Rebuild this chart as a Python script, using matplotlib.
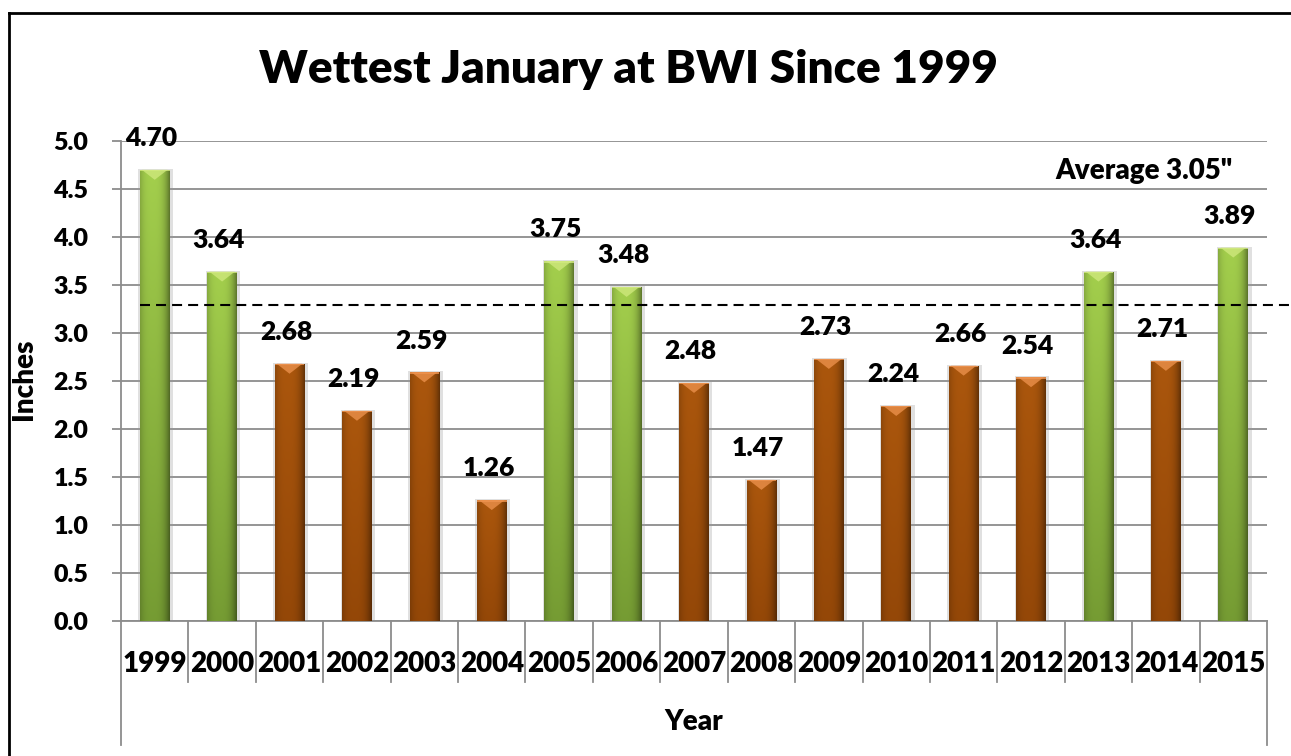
import matplotlib
matplotlib.use('Agg')
import matplotlib.pyplot as plt
import matplotlib.transforms as mtransforms
from matplotlib.lines import Line2D
from matplotlib.patches import Polygon, Rectangle
import numpy as np

plt.rcParams['font.family'] = ['Lato', 'DejaVu Sans']
plt.rcParams['font.weight'] = 'heavy'

# data
years = ['1999', '2000', '2001', '2002', '2003', '2004', '2005', '2006', '2007',
         '2008', '2009', '2010', '2011', '2012', '2013', '2014', '2015']
rain = [4.70, 3.64, 2.68, 2.19, 2.59, 1.26, 3.75, 3.48, 2.48,
        1.47, 2.73, 2.24, 2.66, 2.54, 3.64, 2.71, 3.89]
avg_line = 3.29          # where the dashed line sits in the picture
avg_text = 'Average 3.05"'
y_ticks = [0.0, 0.5, 1.0, 1.5, 2.0, 2.5, 3.0, 3.5, 4.0, 4.5, 5.0]

W, H = 1291, 756
GRID = '#8c8c8c'
WT = 'heavy'

# colour sets: (top, bottom, bevel)
green = (np.array([0.64, 0.81, 0.30]), np.array([0.46, 0.61, 0.20]), '#d2ea80')
brown = (np.array([0.67, 0.34, 0.05]), np.array([0.58, 0.28, 0.03]), '#ef9450')


def bar_image(top, bottom, nx=60, ny=120):
    u = np.linspace(0, 1, nx)
    # cylinder look: a bit brighter left of centre, darker at the edges
    shade = 1.0 - 0.28 * np.abs(2 * u - 0.85) ** 3
    v = np.linspace(0, 1, ny)[:, None, None]
    base = top[None, None, :] * (1 - v) + bottom[None, None, :] * v
    return np.clip(base * shade[None, :, None], 0, 1)


fig = plt.figure(figsize=(W / 100, H / 100), dpi=100)
ax = fig.add_axes([121 / W, (H - 621) / H, 1146 / W, 480 / H])

x = np.arange(len(years))
bar_w = 0.44
bars = ax.bar(x, rain, width=bar_w, color='none', edgecolor='none', zorder=3)

px_y = 5.0 / 480          # data units per pixel, vertical
px_x = 17 / 1146          # data units per pixel, horizontal

for xi, val, patch in zip(x, rain, bars.patches):
    top, bottom, bevel = green if val > avg_line else brown
    x0, x1 = xi - bar_w / 2, xi + bar_w / 2
    # soft shadow
    ax.add_patch(Rectangle((x0 - 1.5 * px_x, 0), bar_w + 5 * px_x, val + px_y,
                           facecolor='#9a9a9a', alpha=0.3, edgecolor='none', zorder=2.5))
    img = ax.imshow(bar_image(top, bottom), extent=(x0, x1, 0, val),
                    aspect='auto', origin='upper', zorder=3, interpolation='bilinear')
    img.set_clip_path(patch)
    d = 10 * px_y
    ax.add_patch(Polygon([(x0 + 2 * px_x, val), (x1 - 2 * px_x, val), (xi, val - d)], closed=True,
                         facecolor=bevel, edgecolor='none', zorder=4, alpha=0.75))
    ax.add_patch(Rectangle((x0, val - 1.5 * px_y), bar_w, 1.5 * px_y,
                           facecolor=bevel, edgecolor='none', zorder=4, alpha=0.8))
    ax.annotate(f'{val:.2f}', (xi - 0.05, val), xytext=(0, 17), textcoords='offset points',
                ha='center', va='baseline', fontsize=19, fontweight=WT,
                annotation_clip=False, zorder=6)

ax.set_xlim(-0.5, len(years) - 0.5)
ax.set_ylim(0, 5)
ax.set_yticks(y_ticks)
ax.set_yticklabels([f'{t:.1f}' for t in y_ticks], fontsize=18, fontweight=WT)
ax.tick_params(axis='y', length=6.5, width=1.3, color=GRID, pad=17)
ax.set_xticks([])
ax.yaxis.grid(True, color=GRID, lw=1.3)
ax.set_axisbelow(True)
for s in ['top', 'right']:
    ax.spines[s].set_visible(False)
for s in ['left', 'bottom']:
    ax.spines[s].set_color(GRID)
    ax.spines[s].set_linewidth(1.3)

# category axis box
trans = mtransforms.blended_transform_factory(ax.transData, ax.transAxes)
for i in range(len(years) + 1):
    xb = i - 0.5
    y_end = -(745 - 621) / 480 if i in (0, len(years)) else -(682 - 621) / 480
    ax.add_line(Line2D([xb, xb], [0, y_end], color=GRID, lw=1.3,
                       transform=trans, clip_on=False))
for xi, yr in zip(x, years):
    ax.text(xi, -(672 - 621) / 480, yr, transform=trans, ha='center', va='baseline',
            fontsize=20, fontweight=WT)

# average line and label
ax.plot([-0.22, 16.9], [avg_line, avg_line], color='black', lw=1.5,
        ls=(0, (4.8, 2.9)), clip_on=False, zorder=5)
ax.text((1144 - 121) / 1146 * 17 - 0.5, (621 - 171) / 96, avg_text, ha='center', va='center',
        fontsize=20, fontweight=WT)

fig.text(24 / W, 1 - 379 / H, 'Inches', rotation=90, ha='center', va='center',
         fontsize=20, fontweight=WT)
fig.text(694 / W, 1 - 722 / H, 'Year', ha='center', va='center', fontsize=20, fontweight=WT)

fig.text(628 / W, 1 - 70 / H, 'Wettest January at BWI Since 1999', ha='center', va='center',
         fontsize=33, fontweight=WT)

# outer chart border (cropped)
fig.add_artist(Line2D([9 / W, 9 / W], [0, 1 - 13 / H], color='black', lw=2,
                      transform=fig.transFigure))
fig.add_artist(Line2D([9 / W, 1], [1 - 13 / H, 1 - 13 / H], color='black', lw=2,
                      transform=fig.transFigure))

fig.savefig('out.png', dpi=100)
